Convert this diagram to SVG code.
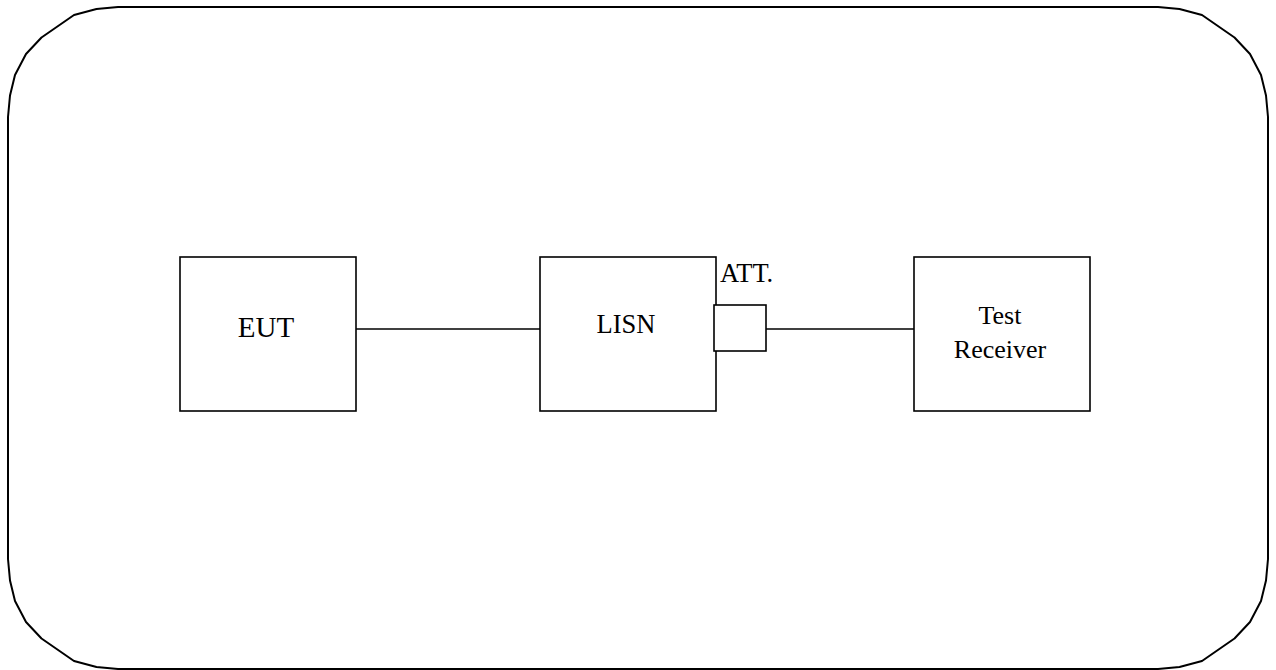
<svg xmlns="http://www.w3.org/2000/svg" width="1276" height="670" viewBox="0 0 1276 670">
  <style>
    .frame { fill: none; stroke: #000; stroke-width: 2; stroke-linejoin: round; }
    .box { fill: #fff; stroke: #000; stroke-width: 1.6; }
    .wire { stroke: #000; stroke-width: 1.6; fill: none; }
    .lbl { font-family: "Liberation Serif", "Times New Roman", serif; fill: #000; }
  </style>
  <rect width="1276" height="670" fill="#fff"/>
  <!-- rounded outer frame, drawn as a faceted outline -->
  <path class="frame" d="M118,7 L96.5,9 L74,15 L41.5,37.5 L26,54 L15,75 L10,95.5 L8,117 L8,559 L10,580.5 L15,601 L26,622 L41.5,638.5 L74,661 L96.5,667 L118,669 L1158,669 L1179.5,667 L1202,661 L1234.5,638.5 L1250,622 L1261,601 L1266,580.5 L1268,559 L1268,117 L1266,95.5 L1261,75 L1250,54 L1234.5,37.5 L1202,15 L1179.5,9 L1158,7 Z"/>
  <g id="connectors">
    <line class="wire" x1="354" y1="329" x2="540" y2="329"/>
    <line class="wire" x1="766" y1="329" x2="914" y2="329"/>
  </g>
  <g id="eut">
    <rect class="box" x="180" y="257" width="176" height="154"/>
    <text class="lbl" x="266" y="337" font-size="29" text-anchor="middle">EUT</text>
  </g>
  <g id="lisn">
    <rect class="box" x="540" y="257" width="176" height="154"/>
    <text class="lbl" x="626" y="333" font-size="26.5" text-anchor="middle">LISN</text>
  </g>
  <g id="att">
    <rect class="box" x="714" y="305" width="52" height="46"/>
    <text class="lbl" x="720" y="282" font-size="26.5">ATT.</text>
  </g>
  <g id="receiver">
    <rect class="box" x="914" y="257" width="176" height="154"/>
    <text class="lbl" x="1000" y="324" font-size="26" text-anchor="middle">Test</text>
    <text class="lbl" x="1000" y="358" font-size="26" text-anchor="middle">Receiver</text>
  </g>
</svg>
